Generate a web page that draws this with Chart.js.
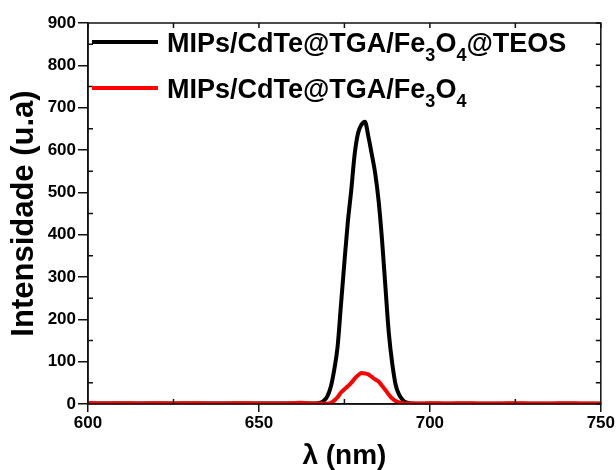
<!DOCTYPE html>
<html>
<head>
<meta charset="utf-8">
<script src="https://cdn.jsdelivr.net/npm/chart.js@4/dist/chart.umd.min.js"></script>
<style>
  body { margin: 0; background: #fff; }
  #wrap { position: relative; width: 616px; height: 470px; }
  .leg { position: absolute; font: bold 27px Arial, 'Liberation Sans', sans-serif; color: #000; white-space: nowrap; line-height: 1; }
  .leg sub { font-size: 18px; vertical-align: -9px; line-height: 0; }
  .swatch { position: absolute; height: 4px; width: 66px; left: 92px; }
</style>
</head>
<body>
<div id="wrap">
  <canvas id="c" width="616" height="470"></canvas>
  <div class="swatch" style="top:40px;background:#000;"></div>
  <div class="leg" style="left:167px;top:30px;">MIPs/CdTe@TGA/Fe<sub>3</sub>O<sub>4</sub>@TEOS</div>
  <div class="swatch" style="top:86px;background:#ff0000;"></div>
  <div class="leg" style="left:167px;top:76px;">MIPs/CdTe@TGA/Fe<sub>3</sub>O<sub>4</sub></div>
</div>
<script>
'use strict';

// comprimento de onda (nm)
const wavelength = [
  600, 605, 610, 615, 620, 625, 630, 635, 640, 645, 650, 655, 660, 662, 664,
  666, 667, 668, 669, 670, 671, 672, 673, 674, 675, 676, 677, 678, 679, 680,
  681, 682, 683, 684, 685, 686, 687, 688, 689, 690, 691, 692, 693, 694, 695,
  696, 698, 700, 705, 710, 715, 720, 725, 730, 735, 740, 745, 750
];

// MIPs/CdTe@TGA/Fe3O4@TEOS
const teos = [
  1, 1, 1, 1, 1, 1, 1, 1, 1, 1, 1, 1, 1, 1, 1,
  1, 1.5, 3, 8, 18, 40, 80, 135, 235, 335, 430, 505, 590, 640, 660,
  667, 632, 590, 545, 480, 388, 276, 167, 95, 45, 22, 10, 4, 2, 1,
  0.5, 0.5, 0.5, 0.5, 0.5, 0.5, 0.5, 0.5, 0.5, 0.5, 0.5, 0.5, 0.5
];

// MIPs/CdTe@TGA/Fe3O4
const fe3o4 = [
  2, 1, 2, 1, 2, 1, 2, 1, 1, 2, 1, 1, 2, 3, 2,
  1, 1, 1, 1, 0.5, 2, 8, 16, 27, 35, 42, 50, 60, 68, 73,
  72, 70, 64, 58, 53, 43, 33, 22, 13, 7, 4, 2, 1, 1, 1,
  1, 1, 2, 1, 2, 1, 1, 2, 1, 1, 2, 1, 1
];

const yTicks = [0, 100, 200, 300, 400, 500, 600, 700, 800, 900];
const xTicks = [600, 650, 700, 750];

const FONT = "Arial, 'Liberation Sans', sans-serif";

function pts(ys) {
  return wavelength.map((x, i) => ({ x, y: ys[i] }));
}

// moldura + ticks menores (para dentro), como no Origin
const framePlugin = {
  id: 'frame',
  afterDraw(chart) {
    const { ctx, chartArea: a, scales: { x, y } } = chart;
    ctx.save();
    ctx.strokeStyle = '#111';
    ctx.lineWidth = 1.5;
    ctx.strokeRect(a.left, a.top, a.right - a.left, a.bottom - a.top);
    ctx.beginPath();
    for (let v = 600; v <= 750; v += 25) {
      const px = x.getPixelForValue(v);
      ctx.moveTo(px, a.top); ctx.lineTo(px, a.top + 5);
      if (v % 50 !== 0) { ctx.moveTo(px, a.bottom); ctx.lineTo(px, a.bottom - 5); }
    }
    for (let v = 0; v <= 900; v += 50) {
      const py = y.getPixelForValue(v);
      ctx.moveTo(a.right, py); ctx.lineTo(a.right - 5, py);
      if (v % 100 !== 0) { ctx.moveTo(a.left, py); ctx.lineTo(a.left + 5, py); }
    }
    ctx.stroke();
    ctx.restore();
  }
};

new Chart(document.getElementById('c'), {
  type: 'line',
  data: {
    datasets: [
      {
        label: 'MIPs/CdTe@TGA/Fe3O4',
        data: pts(fe3o4),
        borderColor: '#ff0000',
        borderWidth: 4,
        pointRadius: 0,
        cubicInterpolationMode: 'monotone',
      },
      {
        label: 'MIPs/CdTe@TGA/Fe3O4@TEOS',
        data: pts(teos),
        borderColor: '#000',
        borderWidth: 4,
        pointRadius: 0,
        cubicInterpolationMode: 'monotone',
      },
    ],
  },
  options: {
    responsive: false,
    animation: false,
    layout: { padding: { top: 23, right: 13, left: 0, bottom: 0 } },
    plugins: { legend: { display: false }, tooltip: { enabled: false } },
    scales: {
      x: {
        type: 'linear',
        min: 600,
        max: 750,
        afterBuildTicks: (s) => { s.ticks = xTicks.map(v => ({ value: v })); },
        afterFit: (s) => { s.height = 66; },
        ticks: { color: '#000', font: { family: FONT, size: 17, weight: 'bold' }, padding: 1, maxRotation: 0 },
        grid: { drawOnChartArea: false, color: '#111', lineWidth: 1.5, tickLength: 8 },
        border: { color: '#111', width: 1.5 },
        title: {
          display: true,
          text: 'λ (nm)',
          color: '#000',
          font: { family: FONT, size: 28, weight: 'bold' },
          padding: { top: 0, bottom: -3 },
        },
      },
      y: {
        min: 0,
        max: 900,
        afterBuildTicks: (s) => { s.ticks = yTicks.map(v => ({ value: v })); },
        afterFit: (s) => { s.width = 88; },
        ticks: { color: '#000', font: { family: FONT, size: 17, weight: 'bold' }, padding: 2 },
        grid: { drawOnChartArea: false, color: '#111', lineWidth: 1.5, tickLength: 10 },
        border: { color: '#111', width: 1.5 },
        title: {
          display: true,
          text: 'Intensidade (u.a)',
          color: '#000',
          font: { family: FONT, size: 31, weight: 'bold' },
          padding: { top: 6, bottom: 0 },
        },
      },
    },
  },
  plugins: [framePlugin],
});
</script>
</body>
</html>
